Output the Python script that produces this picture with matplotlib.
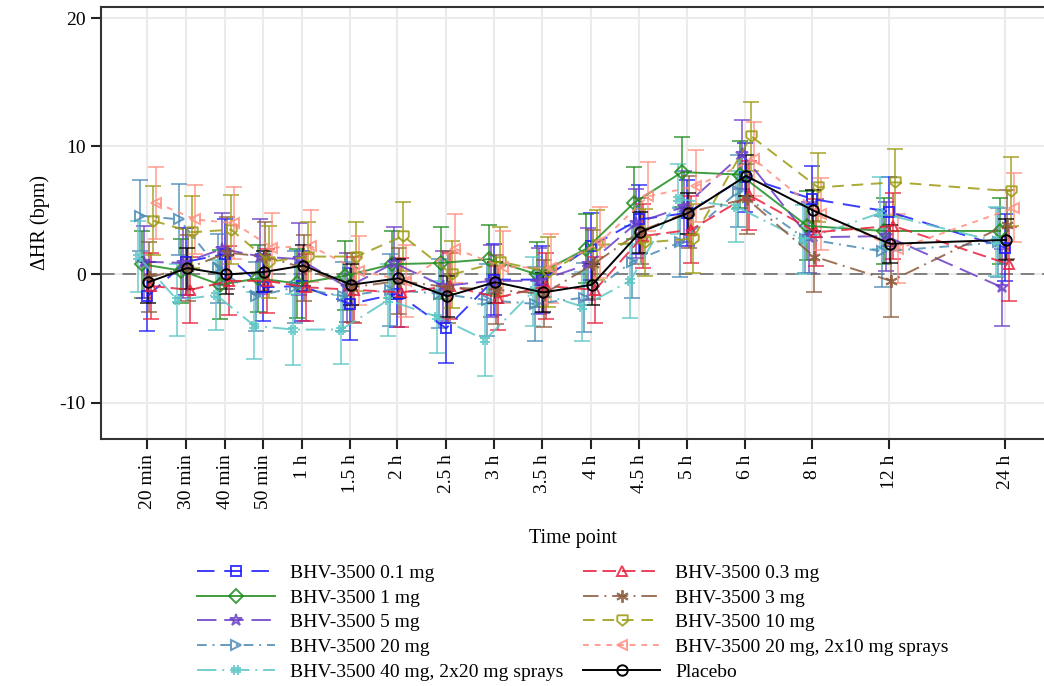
import numpy as np
import matplotlib
matplotlib.use("Agg")
import matplotlib.pyplot as plt
from matplotlib.path import Path

plt.rcParams['font.family'] = ['Liberation Serif', 'DejaVu Serif']

# time points and their plotting positions on the (non-linear) time axis
time_labels = ['20 min', '30 min', '40 min', '50 min', '1 h', '1.5 h', '2 h', '2.5 h', '3 h',
               '3.5 h', '4 h', '4.5 h', '5 h', '6 h', '8 h', '12 h', '24 h']
x_pos = [0.0, 3.9, 7.8, 11.6, 15.5, 20.3, 25.0, 29.9, 34.7, 39.5, 44.4, 49.2, 54.0, 59.8, 66.5, 74.2, 85.8]

# mean change in HR (bpm) and standard error per dose group
hr_01 = [-1.7, 1.0, 1.6, -1.0, -0.9, -2.3, -1.5, -4.2, -0.4, -0.4, 2.2, 4.3, 4.8, 7.6, 5.9, 4.9, 2.1]
se_01 = [2.7, 2.6, 2.7, 2.6, 2.7, 2.8, 2.6, 2.7, 2.8, 2.6, 2.6, 2.7, 2.6, 2.7, 2.6, 2.7, 2.6]
hr_03 = [-0.9, -1.2, -0.5, -0.5, -1.0, -1.2, -1.4, -0.9, -1.8, -0.9, -1.2, 3.0, 3.5, 6.2, 3.3, 3.8, 0.8]
se_03 = [2.6, 2.6, 2.7, 2.5, 2.6, 2.6, 2.7, 2.6, 2.5, 2.6, 2.6, 2.5, 2.6, 2.7, 2.6, 2.6, 2.9]
hr_1 = [0.8, 0.3, -0.8, -0.3, -0.7, -0.1, 0.8, 0.9, 1.2, 0.0, 2.0, 5.6, 8.0, 7.8, 3.8, 3.4, 3.4]
se_1 = [2.6, 2.5, 2.7, 2.6, 2.7, 2.7, 2.6, 2.8, 2.7, 2.5, 2.7, 2.8, 2.7, 2.6, 2.7, 2.6, 2.6]
hr_3 = [-0.2, 0.5, 1.7, 1.4, 0.5, -1.0, -0.5, -1.0, -1.2, -1.5, 0.8, 3.4, 4.9, 5.9, 1.4, -0.5, 3.9]
se_3 = [2.7, 2.6, 2.8, 2.7, 2.6, 2.7, 2.6, 2.8, 2.7, 2.6, 2.7, 2.6, 2.8, 2.7, 2.8, 2.8, 2.7]
hr_5 = [1.0, 0.9, 2.0, 1.4, 1.2, -1.0, 0.9, -0.9, -0.5, -0.5, 0.8, 4.0, 5.3, 9.4, 2.9, 3.0, -1.0]
se_5 = [2.8, 2.7, 2.8, 2.9, 2.8, 2.7, 2.8, 2.7, 2.8, 2.6, 2.8, 2.7, 2.8, 2.7, 2.8, 2.7, 3.0]
hr_10 = [4.2, 3.3, 3.5, 1.0, 1.4, 1.4, 3.0, 0.0, 1.0, 0.2, 2.3, 2.5, 2.8, 10.8, 6.8, 7.2, 6.5]
se_10 = [2.7, 2.8, 2.7, 2.8, 2.7, 2.7, 2.7, 2.6, 2.7, 2.7, 2.7, 2.6, 2.7, 2.7, 2.7, 2.6, 2.7]
hr_20 = [4.6, 4.3, 0.5, -1.7, -1.0, -1.7, -1.2, -1.5, -2.0, -2.3, -1.8, 1.0, 2.5, 6.5, 2.8, 1.8, 2.5]
se_20 = [2.8, 2.8, 2.7, 2.7, 2.8, 2.7, 2.8, 2.7, 2.8, 2.9, 2.7, 2.8, 2.7, 2.8, 2.7, 2.8, 2.7]
hr_20s = [5.6, 4.3, 4.0, 2.1, 2.2, 0.3, -0.5, 2.0, 0.6, 0.5, 2.5, 6.1, 6.9, 9.0, 4.7, 2.0, 5.2]
se_20s = [2.8, 2.7, 2.8, 2.7, 2.8, 2.7, 2.8, 2.7, 2.8, 2.7, 2.8, 2.7, 2.8, 2.9, 2.8, 2.7, 2.7]
hr_40s = [1.4, -2.0, -1.6, -4.0, -4.3, -4.3, -2.0, -3.3, -5.1, -1.3, -2.5, -0.5, 5.9, 5.3, 2.7, 4.8, 2.6]
se_40s = [2.8, 2.8, 2.7, 2.6, 2.8, 2.7, 2.8, 2.8, 2.8, 2.7, 2.7, 2.9, 2.7, 2.8, 2.7, 2.8, 2.7]
hr_pbo = [-0.6, 0.5, 0.0, 0.2, 0.7, -0.8, -0.3, -1.7, -0.6, -1.4, -0.8, 3.3, 4.8, 7.7, 5.0, 2.4, 2.7]
se_pbo = [1.6, 1.6, 1.5, 1.6, 1.6, 1.6, 1.5, 1.6, 1.6, 1.5, 1.6, 1.6, 1.6, 1.6, 1.6, 1.5, 1.6]

group_names = ['BHV-3500 0.1 mg', 'BHV-3500 1 mg', 'BHV-3500 5 mg', 'BHV-3500 20 mg',
               'BHV-3500 40 mg, 2x20 mg sprays', 'BHV-3500 0.3 mg', 'BHV-3500 3 mg',
               'BHV-3500 10 mg', 'BHV-3500 20 mg, 2x10 mg sprays', 'Placebo']

# custom marker shapes
shield = Path([(-1, 1), (1, 1), (1, -0.15), (0, -1), (-1, -0.15), (-1, 1)])
hash_mk = Path([(-0.35, -1), (-0.35, 1), (0.35, -1), (0.35, 1),
                (-1, -0.35), (1, -0.35), (-1, 0.35), (1, 0.35)],
               [Path.MOVETO, Path.LINETO] * 4)

# name: (means, se, color, marker, linestyle, dodge)
groups = {
    'BHV-3500 0.1 mg': (hr_01, se_01, '#1a1aff', 's', (0, (9, 5)), 0.0),
    'BHV-3500 1 mg': (hr_1, se_1, '#1e8c1e', 'D', '-', -0.5),
    'BHV-3500 5 mg': (hr_5, se_5, '#6a3dc8', '*', (0, (10, 4)), -0.3),
    'BHV-3500 20 mg': (hr_20, se_20, '#4a8ab5', '>', (0, (5, 3, 1, 3)), -0.7),
    'BHV-3500 40 mg, 2x20 mg sprays': (hr_40s, se_40s, '#5cc6c6', hash_mk, (0, (10, 3, 1, 3)), -0.9),
    'BHV-3500 0.3 mg': (hr_03, se_03, '#e8203c', '^', (0, (7, 3)), 0.4),
    'BHV-3500 3 mg': (hr_3, se_3, '#8b5a3c', (6, 2, 0), (0, (8, 3, 1, 3)), 0.2),
    'BHV-3500 10 mg': (hr_10, se_10, '#9a9a10', shield, (0, (6, 4)), 0.6),
    'BHV-3500 20 mg, 2x10 mg sprays': (hr_20s, se_20s, '#ff8f80', '<', (0, (3, 3)), 0.9),
    'Placebo': (hr_pbo, se_pbo, '#000000', 'o', '-', 0.1),
}

fig = plt.figure(figsize=(10.44, 6.86), dpi=100)
ax = fig.add_axes([0.097, 0.36, 0.903, 0.63])

ax.axhline(0, color='#808080', lw=1.4, ls=(0, (7, 4)), zorder=1)

handles = []
for name in group_names:
    y, se, col, mk, ls, dx = groups[name]
    xs = np.array(x_pos) + dx
    ax.errorbar(xs, y, yerr=se, fmt='none', ecolor=col, elinewidth=1.3,
                capsize=5.5, capthick=1.3, alpha=0.75, zorder=2)
    ms = 9 if mk in ('*', (6, 2, 0)) else 7.5
    ln, = ax.plot(xs, y, color=col, ls=ls, lw=1.4, marker=mk, ms=ms,
                  mfc='none', mec=col, mew=1.4, alpha=0.85 if name != 'Placebo' else 1.0,
                  zorder=4 if name == 'Placebo' else 3, label=name)
    handles.append(ln)

ax.set_xlim(-4.6, 89.7)
ax.set_ylim(-12.85, 20.9)
ax.set_xticks(x_pos)
ax.set_xticklabels(time_labels, rotation=90, fontsize=14)
ax.set_yticks([-10, 0, 10, 20])
ax.set_yticklabels(['-10', '0', '10', '20'], fontsize=14)
ax.grid(True, color='#ebebeb', lw=1.5, zorder=0)
ax.set_axisbelow(True)
ax.tick_params(axis='both', direction='out', length=7, width=1.5, color='#222222', pad=4)
for side in ('left', 'top', 'bottom'):
    ax.spines[side].set_linewidth(1.5)
    ax.spines[side].set_color('#333333')
ax.spines['right'].set_visible(False)

ax.set_xlabel('Time point', fontsize=14.5, labelpad=14)
ax.set_ylabel('\u0394HR (bpm)', fontsize=14.5, labelpad=7)

fig.legend(handles=handles, loc='lower left', bbox_to_anchor=(0.178, -0.009), ncol=2,
           frameon=False, fontsize=14, handlelength=4.0, handletextpad=0.75,
           columnspacing=1.0, labelspacing=0.36, borderaxespad=0.2)

fig.savefig('out.png', dpi=100)
